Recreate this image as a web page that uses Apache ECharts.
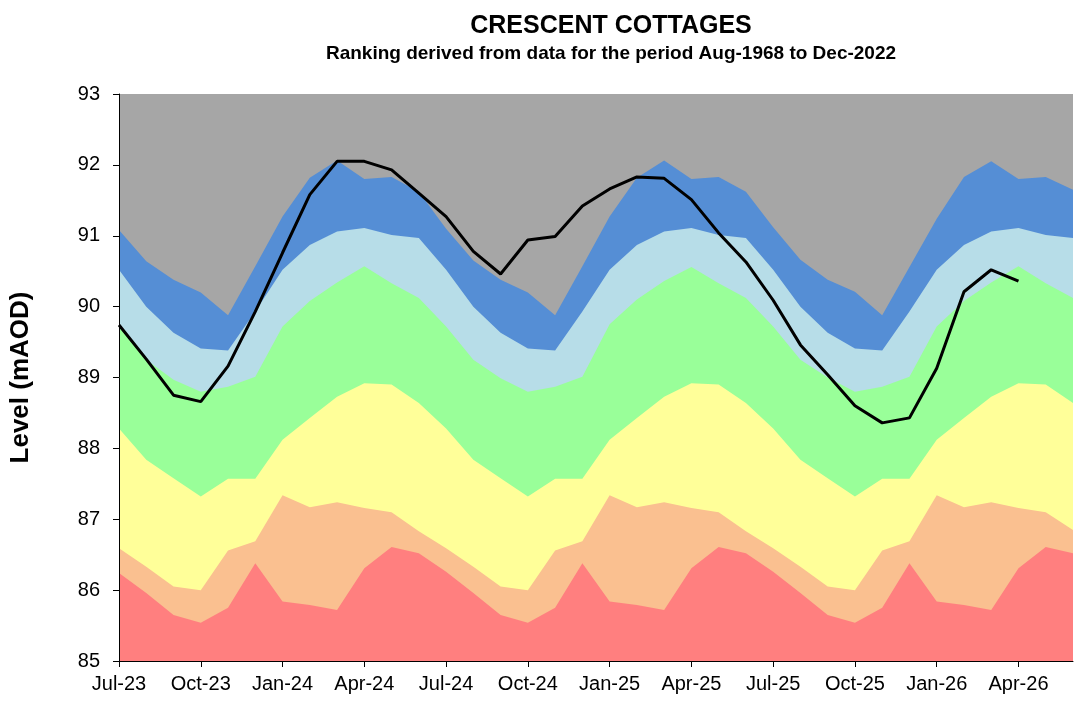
<!DOCTYPE html>
<html>
<head>
<meta charset="utf-8">
<script src="https://cdn.jsdelivr.net/npm/echarts@6/dist/echarts.min.js"></script>
<style>
  html, body { margin: 0; padding: 0; background: #fff; }
  #main { width: 1078px; height: 702px; }
</style>
</head>
<body>
<div id="main"></div>
<script>
// months along the x axis
var months = [
  "Jul-23", "Aug-23", "Sep-23", "Oct-23", "Nov-23", "Dec-23",
  "Jan-24", "Feb-24", "Mar-24", "Apr-24", "May-24", "Jun-24",
  "Jul-24", "Aug-24", "Sep-24", "Oct-24", "Nov-24", "Dec-24",
  "Jan-25", "Feb-25", "Mar-25", "Apr-25", "May-25", "Jun-25",
  "Jul-25", "Aug-25", "Sep-25", "Oct-25", "Nov-25", "Dec-25",
  "Jan-26", "Feb-26", "Mar-26", "Apr-26", "May-26", "Jun-26"
];

// upper edge of each ranking band (mAOD)
var blueTop = [
  91.08, 90.64, 90.38, 90.2, 89.88, 90.57, 91.27, 91.82, 92.06, 91.8, 91.83, 91.62,
  91.1, 90.65, 90.38, 90.2, 89.88, 90.57, 91.27, 91.82, 92.06, 91.8, 91.83, 91.62,
  91.12, 90.66, 90.38, 90.21, 89.88, 90.56, 91.24, 91.83, 92.05, 91.8, 91.83, 91.65
];
var lightBlueTop = [
  90.52, 90.0, 89.63, 89.41, 89.38, 89.93, 90.52, 90.87, 91.06, 91.11, 91.01, 90.97,
  90.52, 90.0, 89.63, 89.41, 89.38, 89.93, 90.52, 90.87, 91.06, 91.11, 91.01, 90.97,
  90.52, 90.0, 89.63, 89.41, 89.38, 89.93, 90.52, 90.87, 91.06, 91.11, 91.01, 90.97
];
var greenTop = [
  89.72, 89.25, 88.97, 88.8, 88.87, 89.01, 89.72, 90.08, 90.34, 90.57, 90.33, 90.12,
  89.72, 89.25, 88.99, 88.8, 88.87, 89.01, 89.75, 90.1, 90.36, 90.56, 90.33, 90.12,
  89.72, 89.25, 89.0, 88.8, 88.87, 89.01, 89.72, 90.08, 90.34, 90.57, 90.33, 90.12
];
var yellowTop = [
  88.28, 87.84, 87.58, 87.32, 87.57, 87.57, 88.12, 88.43, 88.73, 88.92, 88.9, 88.64,
  88.28, 87.84, 87.58, 87.32, 87.57, 87.57, 88.12, 88.43, 88.73, 88.92, 88.9, 88.64,
  88.28, 87.84, 87.58, 87.32, 87.57, 87.57, 88.12, 88.43, 88.73, 88.92, 88.9, 88.64
];
var orangeTop = [
  86.59, 86.33, 86.05, 86.0, 86.56, 86.69, 87.34, 87.17, 87.24, 87.16, 87.1, 86.83,
  86.59, 86.33, 86.05, 86.0, 86.56, 86.69, 87.34, 87.17, 87.24, 87.16, 87.1, 86.83,
  86.59, 86.33, 86.05, 86.0, 86.56, 86.69, 87.34, 87.17, 87.24, 87.16, 87.1, 86.85
];
var redTop = [
  86.24, 85.96, 85.65, 85.54, 85.75, 86.38, 85.84, 85.79, 85.72, 86.31, 86.61, 86.52,
  86.26, 85.96, 85.65, 85.54, 85.75, 86.38, 85.84, 85.79, 85.72, 86.31, 86.61, 86.52,
  86.26, 85.96, 85.65, 85.54, 85.75, 86.38, 85.84, 85.79, 85.72, 86.31, 86.61, 86.52
];

// observed groundwater level
var level = [
  89.74, 89.26, 88.75, 88.66, 89.16, 89.93, 90.76, 91.58, 92.05, 92.05, 91.93, 91.6,
  91.27, 90.78, 90.46, 90.94, 90.99, 91.42, 91.66, 91.83, 91.81, 91.51, 91.04, 90.63,
  90.09, 89.46, 89.04, 88.6, 88.36, 88.43, 89.13, 90.21, 90.52, 90.36, null, null
];

var font = "Liberation Sans, Arial, sans-serif";

function band(name, data, color) {
  return {
    name: name,
    type: "line",
    data: data,
    symbol: "none",
    silent: true,
    lineStyle: { width: 0 },
    areaStyle: { color: color, opacity: 1, origin: "start" },
    z: 2
  };
}

var chart = echarts.init(document.getElementById("main"));

var option = {
  animation: false,
  backgroundColor: "#fff",
  title: [
    {
      text: "CRESCENT COTTAGES",
      left: 606,
      top: 9,
      textAlign: "center",
      textStyle: { fontFamily: font, fontSize: 25, fontWeight: "bold", color: "#000" }
    },
    {
      text: "Ranking derived from data for the period Aug-1968 to Dec-2022",
      left: 606,
      top: 39,
      textAlign: "center",
      textStyle: { fontFamily: font, fontSize: 19, fontWeight: "bold", color: "#000" }
    }
  ],
  // 位置
  grid: {
    left: 119,
    right: 5,
    top: 94,
    bottom: 41,
    show: true,
    backgroundColor: "#a6a6a6",
    borderWidth: 0
  },
  xAxis: {
    type: "category",
    data: months,
    boundaryGap: false,
    axisLine: { lineStyle: { color: "#000", width: 1 } },
    axisTick: { interval: 2, length: 6, lineStyle: { color: "#000" } },
    axisLabel: { interval: 2, margin: 13, fontFamily: font, fontSize: 20, color: "#000" },
    splitLine: { show: false },
    z: 10
  },
  yAxis: {
    type: "value",
    min: 85,
    max: 93,
    interval: 1,
    name: "Level (mAOD)",
    nameLocation: "middle",
    nameGap: 85,
    nameTextStyle: { fontFamily: font, fontSize: 26, fontWeight: "bold", color: "#000" },
    axisLine: { show: true, lineStyle: { color: "#000", width: 1 } },
    axisTick: { show: true, length: 6, lineStyle: { color: "#000" } },
    axisLabel: { margin: 19, fontFamily: font, fontSize: 20, color: "#000" },
    splitLine: { show: false },
    z: 10
  },
  series: [
    band("Exceptionally high", blueTop, "#558ed5"),
    band("Notably high", lightBlueTop, "#b7dde8"),
    band("Normal", greenTop, "#99ff99"),
    band("Below normal", yellowTop, "#ffff99"),
    band("Notably low", orangeTop, "#fac090"),
    band("Exceptionally low", redTop, "#ff7f7f"),
    {
      name: "Level",
      type: "line",
      data: level,
      symbol: "none",
      connectNulls: false,
      lineStyle: { color: "#000", width: 3 },
      z: 5
    }
  ]
};

chart.setOption(option);
</script>
</body>
</html>
